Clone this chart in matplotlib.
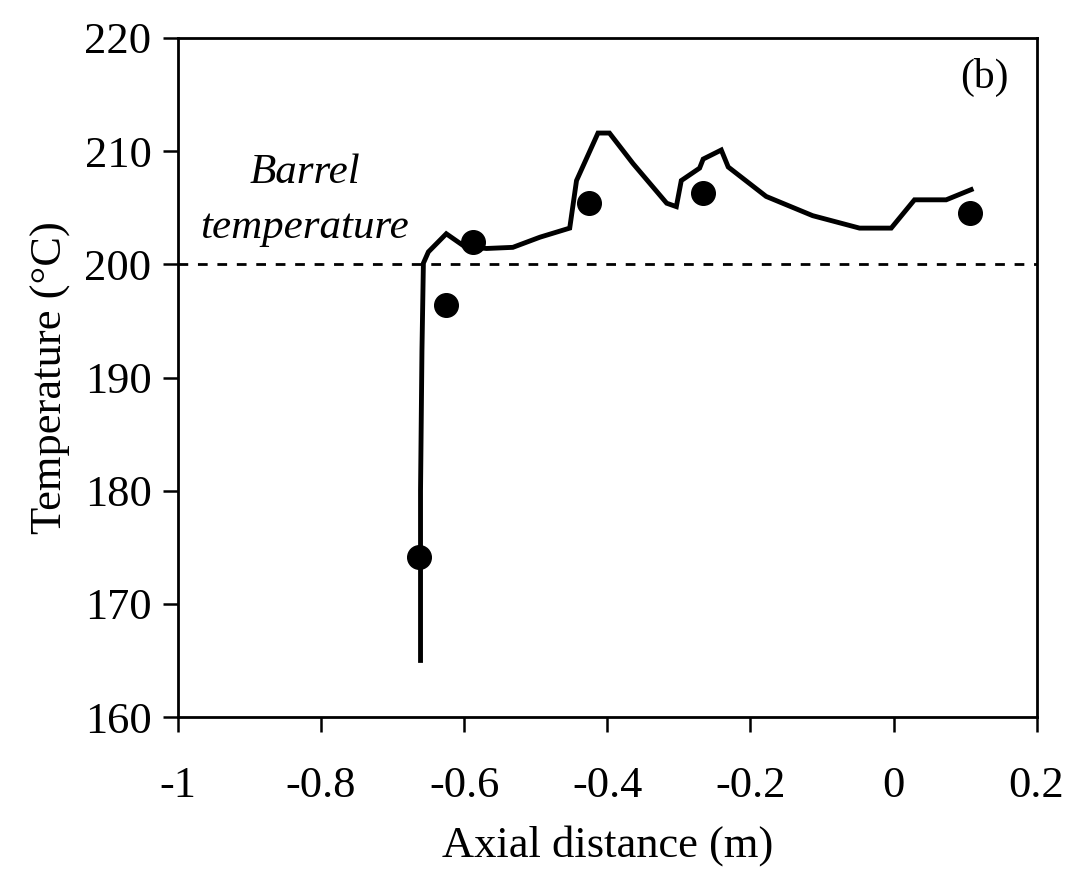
import matplotlib.pyplot as plt
import numpy as np

# simulated temperature profile along the screw (line)
x_sim = [-0.661, -0.661, -0.659, -0.657, -0.650, -0.625, -0.600, -0.569, -0.532,
         -0.494, -0.4525, -0.443, -0.413, -0.397, -0.364, -0.317, -0.3035,
         -0.2966, -0.271, -0.266, -0.2407, -0.231, -0.178, -0.113, -0.0475,
         -0.0032, 0.0293, 0.0736, 0.1085]
t_sim = [165.0, 180.0, 192.4, 200.1, 201.1, 202.7, 201.6, 201.4, 201.5,
         202.4, 203.2, 207.4, 211.6, 211.6, 208.9, 205.4, 205.1,
         207.4, 208.5, 209.3, 210.1, 208.6, 206.0, 204.3, 203.2,
         203.2, 205.7, 205.7, 206.6]

# measured values (dots)
x_meas = [-0.663, -0.625, -0.587, -0.425, -0.266, 0.107]
t_meas = [174.1, 196.4, 202.0, 205.4, 206.3, 204.5]

barrel_temp = 200

xticks = [-1, -0.8, -0.6, -0.4, -0.2, 0, 0.2]
xtick_labels = ['-1', '-0.8', '-0.6', '-0.4', '-0.2', '0', '0.2']
yticks = [160, 170, 180, 190, 200, 210, 220]

plt.rcParams['font.family'] = ['Liberation Serif', 'DejaVu Serif']

fig = plt.figure(figsize=(10.72, 8.77), dpi=100)
ax = fig.add_axes([0.166, 0.1824, 0.801, 0.7743])

ax.axhline(barrel_temp, color='black', lw=2.0, ls=(0, (3.5, 3.5)))
ax.plot(x_sim, t_sim, color='black', lw=3.5, solid_joinstyle='miter')
ax.plot(x_meas, t_meas, 'o', color='black', markersize=17)

ax.set_xlim(-1, 0.2)
ax.set_ylim(160, 220)
ax.set_xticks(xticks)
ax.set_xticklabels(xtick_labels)
ax.set_yticks(yticks)

ax.tick_params(axis='both', direction='out', length=11, width=1.8,
               labelsize=32, color='black')
ax.tick_params(axis='x', pad=24)
ax.tick_params(axis='y', pad=8)
for s in ax.spines.values():
    s.set_linewidth(2.0)

ax.set_xlabel('Axial distance (m)', fontsize=32, labelpad=14)
ax.set_ylabel('Temperature (°C)', fontsize=32, labelpad=10)

ax.text(-0.823, 208.1, 'Barrel', fontsize=31, style='italic', ha='center', va='center')
ax.text(-0.823, 203.2, 'temperature', fontsize=31, style='italic', ha='center', va='center')
ax.text(0.127, 216.5, '(b)', fontsize=30, ha='center', va='center')

fig.savefig('out.png', dpi=100)
